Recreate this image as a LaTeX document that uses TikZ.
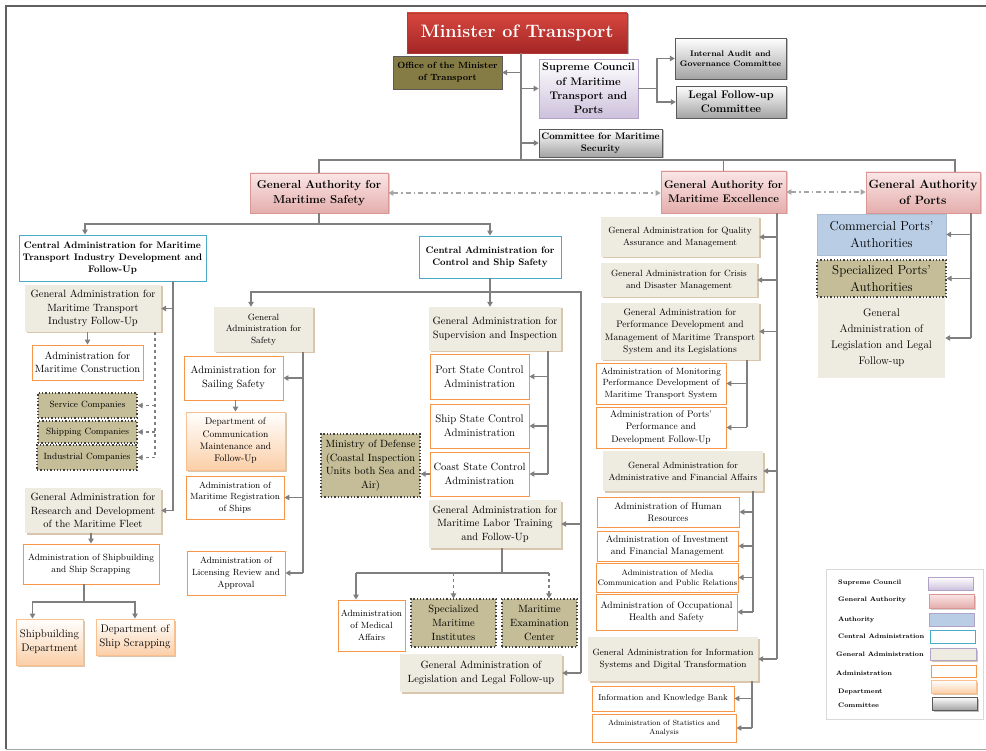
\documentclass[tikz,border=0pt]{standalone}
\usepackage{fontspec}
\usetikzlibrary{arrows.meta,shadows}

\definecolor{linegray}{HTML}{7F7F7F}
\definecolor{framegray}{HTML}{606060}
\definecolor{ministertop}{HTML}{D8473F}
\definecolor{ministerbot}{HTML}{A32626}
\definecolor{ministerline}{HTML}{B23A35}
\definecolor{olivebox}{HTML}{857B44}
\definecolor{lavender}{HTML}{CDC1DC}
\definecolor{lavline}{HTML}{B3A2C7}
\definecolor{grayshade}{HTML}{A3A3A3}
\definecolor{grayline}{HTML}{5A5A5A}
\definecolor{pinktop}{HTML}{FAE6E6}
\definecolor{pinkbot}{HTML}{E4AEAC}
\definecolor{pinkline}{HTML}{D99694}
\definecolor{cyanline}{HTML}{4BACC6}
\definecolor{beigefill}{HTML}{EEECE1}
\definecolor{shadowtan}{HTML}{D9C6AC}
\definecolor{orangeline}{HTML}{F79646}
\definecolor{deptline}{HTML}{FAC090}
\definecolor{deptbot}{HTML}{FBCFA8}
\definecolor{khaki}{HTML}{C4BD97}
\definecolor{dotline}{HTML}{404040}
\definecolor{authblue}{HTML}{B9CDE5}

\newcommand{\fsz}[1]{\fontsize{#1}{\dimexpr #1pt*13/10\relax}\selectfont}

\tikzset{
	wh/.style 2 args={minimum width=#1, minimum height=#2},
	base/.style={align=center, inner sep=1pt, text=black, font=\fsz{9.5}},
	minister/.style={base, draw=ministerline, top color=ministertop, bottom color=ministerbot, text=white, font=\fsz{18}\bfseries,
		drop shadow={shadow xshift=1.5pt, shadow yshift=-1.5pt, fill=gray!60, opacity=1}},
	office/.style={base, fill=olivebox, draw=grayline, font=\fsz{9}\bfseries},
	supreme/.style={base, draw=lavline, line width=0.8pt, top color=white, bottom color=lavender, font=\fsz{11}\bfseries},
	committee/.style={base, draw=grayline, top color=white, bottom color=grayshade, font=\fsz{9.5}\bfseries,
		drop shadow={shadow xshift=1.5pt, shadow yshift=-1.5pt, fill=gray!50, opacity=1}},
	authority/.style={base, draw=pinkline, line width=0.8pt, top color=pinktop, bottom color=pinkbot, font=\fsz{11.5}\bfseries,
		drop shadow={shadow xshift=1.5pt, shadow yshift=-1.5pt, fill=gray!35, opacity=1}},
	central/.style={base, draw=cyanline, line width=0.9pt, fill=white, font=\fsz{9.5}\bfseries},
	general/.style={base, fill=beigefill, font=\fsz{10.5},
		drop shadow={shadow xshift=1.5pt, shadow yshift=-1.5pt, fill=shadowtan, opacity=1}},
	genplain/.style={base, fill=beigefill, font=\fsz{10.5}},
	admin/.style={base, draw=orangeline, line width=0.9pt, fill=white, font=\fsz{9}},
	dept/.style={base, draw=deptline, line width=0.9pt, top color=white, bottom color=deptbot, font=\fsz{11},
		drop shadow={shadow xshift=1.5pt, shadow yshift=-1.5pt, fill=shadowtan, opacity=1}},
	partner/.style={base, fill=khaki, draw=dotline, line width=1.3pt, dotted, font=\fsz{9}},
	portauth/.style={base, fill=authblue, draw=authblue!80!gray, font=\fsz{13}},
	legtext/.style={anchor=west, inner sep=0pt, font=\fsz{6.5}\bfseries},
	conn/.style={draw=linegray, line width=1.1pt},
	arr/.style={conn, -{Triangle[length=5pt, width=5.5pt]}},
	dda/.style={draw=gray!70, line width=1.1pt, dash pattern=on 5pt off 3pt on 1.5pt off 3pt,
		{Triangle[length=5pt, width=5.5pt]}-{Triangle[length=5pt, width=5.5pt]}},
}

\begin{document}
\begin{tikzpicture}[x=1pt, y=-1pt]
	\useasboundingbox (0,0) rectangle (986,751);
	% frame
	\draw[framegray, line width=2pt] (986,6) -- (6,6) -- (6,749);
	\draw[gray!70, line width=1pt] (6,749) -- (986,749);

	% minister and council
	\node[minister, wh={220}{40}] (minister) at (517,33) {Minister of Transport};
	\node[office, wh={109}{33}] (office) at (447.5,72.5) {Office of the Minister\\of Transport};
	\node[supreme, wh={99}{59}] (supreme) at (588.5,88.5) {Supreme Council\\of Maritime\\Transport and\\Ports};
	\node[committee, wh={111}{41}, font=\fsz{8}\bfseries] (audit) at (730.5,58.5) {Internal Audit and\\Governance Committee};
	\node[committee, wh={110}{32}, font=\fsz{11}\bfseries] (legalCom) at (731,102) {Legal Follow-up\\Committee};
	\node[committee, wh={123}{28}] (security) at (600.5,143) {Committee for Maritime\\Security};

	% authorities
	\node[authority, wh={138}{40}] (gaSafety) at (319,193) {General Authority for\\Maritime Safety};
	\node[authority, wh={125}{42}, font=\fsz{11}\bfseries] (gaExcel) at (723.5,192) {General Authority for\\Maritime Excellence};
	\node[authority, wh={114}{41}, font=\fsz{12}\bfseries] (gaPorts) at (923,192.5) {General Authority\\of Ports};

	% maritime safety: transport industry
	\node[central, wh={187}{46}] (caTransport) at (112.5,258) {Central Administration for Maritime\\Transport Industry Development and\\Follow-Up};
	\node[general, wh={136}{47}] (gaTransFollow) at (93,308.5) {General Administration for\\Maritime Transport\\Industry Follow-Up};
	\node[admin, wh={111}{35}, font=\fsz{10.5}] (construction) at (87.5,362.5) {Administration for\\Maritime Construction};
	\node[partner, wh={99}{25}] (service) at (87.5,405.5) {Service Companies};
	\node[partner, wh={99}{22}] (shipping) at (87.5,432) {Shipping Companies};
	\node[partner, wh={100}{25}] (industrial) at (87,457.5) {Industrial Companies};
	\node[general, wh={136}{45}] (gaResearch) at (93,510.5) {General Administration for\\Research and Development\\of the Maritime Fleet};
	\node[admin, wh={136}{40}] (adminShip) at (91,564) {Administration of Shipbuilding\\and Ship Scrapping};
	\node[dept, wh={67}{46}] (shipDept) at (49.5,642) {Shipbuilding\\Department};
	\node[dept, wh={78}{36}] (scrapDept) at (135,637) {Department of\\Ship Scrapping};

	% maritime safety: control and ship safety
	\node[central, wh={142}{42}] (caControl) at (490,257) {Central Administration for\\Control and Ship Safety};
	\node[general, wh={99}{45}, font=\fsz{9}] (gaSafetyAdmin) at (263.5,329.5) {General\\Administration for\\Safety};
	\node[admin, wh={99}{44}, font=\fsz{10.5}] (sailing) at (233.5,378) {Administration for\\Sailing Safety};
	\node[dept, wh={99}{58}, font=\fsz{9.5}] (deptComm) at (235.5,441) {Department of\\Communication\\Maintenance and\\Follow-Up};
	\node[admin, wh={98}{43}] (registration) at (235,497.5) {Administration of\\Maritime Registration\\of Ships};
	\node[admin, wh={98}{44}] (licensing) at (236,573) {Administration of\\Licensing Review and\\Approval};
	\node[general, wh={132}{44}] (gaSupervision) at (495,329) {General Administration for\\Supervision and Inspection};
	\node[admin, wh={99}{45}, font=\fsz{11}] (portState) at (479.5,376.5) {Port State Control\\Administration};
	\node[admin, wh={99}{44}, font=\fsz{11}] (shipState) at (479.5,426) {Ship State Control\\Administration};
	\node[admin, wh={99}{44}, font=\fsz{10.5}] (coastState) at (479.5,474) {Coast State Control\\Administration};
	\node[partner, wh={99}{63}, font=\fsz{10.5}] (ministry) at (370.5,465.5) {Ministry of Defense\\(Coastal Inspection\\Units both Sea and\\Air)};
	\node[general, wh={132}{48}] (gaLabor) at (495,524) {General Administration for\\Maritime Labor Training\\and Follow-Up};
	\node[admin, wh={67}{51}] (medical) at (371.5,625.5) {Administration\\of Medical\\Affairs};
	\node[partner, wh={85}{48}, font=\fsz{10.5}] (institutes) at (453.5,623) {Specialized\\Maritime\\Institutes};
	\node[partner, wh={75}{48}, font=\fsz{10.5}] (examCenter) at (539.5,623) {Maritime\\Examination\\Center};
	\node[general, wh={162}{38}] (gaLegislation) at (481,673) {General Administration of\\Legislation and Legal Follow-up};

	% maritime excellence
	\node[general, wh={158}{40}, font=\fsz{9}] (gaQuality) at (680,237) {General Administration for Quality\\Assurance and Management};
	\node[general, wh={156}{34}, font=\fsz{9}] (gaCrisis) at (679,280) {General Administration for Crisis\\and Disaster Management};
	\node[general, wh={158}{57}, font=\fsz{9.5}] (gaPerformance) at (680,331.5) {General Administration for\\Performance Development and\\Management of Maritime Transport\\System and its Legislations};
	\node[admin, wh={130}{41}] (monitoring) at (661,383.5) {Administration of Monitoring\\Performance Development of\\Maritime Transport System};
	\node[admin, wh={130}{41}, font=\fsz{9.5}] (portsPerf) at (661,427.5) {Administration of Ports'\\Performance and\\Development Follow-Up};
	\node[general, wh={160}{40}, font=\fsz{9}] (gaAdminFin) at (683,471) {General Administration for\\Administrative and Financial Affairs};
	\node[admin, wh={142}{30}, font=\fsz{9.5}] (hr) at (668,512) {Administration of Human\\Resources};
	\node[admin, wh={141}{30}, font=\fsz{9.5}] (invest) at (667.5,546) {Administration of Investment\\and Financial Management};
	\node[admin, wh={141}{29}, font=\fsz{8}] (media) at (667.5,577.5) {Administration of Media\\Communication and Public Relations};
	\node[admin, wh={141}{36}, font=\fsz{9.5}] (ohs) at (666.5,612) {Administration of Occupational\\Health and Safety};
	\node[general, wh={170}{44}, font=\fsz{9}] (gaInfo) at (673,659) {General Administration for Information\\Systems and Digital Transformation};
	\node[admin, wh={142}{25}, font=\fsz{8.5}] (infoBank) at (663,698.5) {Information and Knowledge Bank};
	\node[admin, wh={144}{28}, font=\fsz{7.5}] (stats) at (664,728) {Administration of Statistics and\\Analysis};

	% ports
	\node[portauth, wh={129}{41}] (commercial) at (881.5,234.5) {Commercial Ports'\\Authorities};
	\node[partner, wh={129}{37}, font=\fsz{13}] (specPorts) at (881.5,278.5) {Specialized Ports'\\Authorities};
	\node[genplain, wh={127}{80}, font=\fontsize{11}{16}\selectfont] (gaLegPorts) at (881.5,338) {General\\Administration of\\Legislation and Legal\\Follow-up};

	% legend
	\node[draw=gray!30, fill=white, wh={157}{150}] (legend) at (904.5,644) {};
	\node[legtext] (legSupreme) at (838,583) {Supreme Council};
	\node[legtext] (legAuthority) at (838,600) {General Authority};
	\node[legtext] (legPortAuth) at (838,620) {Authority};
	\node[legtext] (legCentral) at (838,636) {Central Administration};
	\node[legtext] (legGeneral) at (836,654) {General Administration};
	\node[legtext] (legAdmin) at (836,673) {Administration};
	\node[legtext] (legDept) at (838,692) {Department};
	\node[legtext] (legCommittee) at (838,705) {Committee};
	\node[supreme, wh={45}{13}] (swSupreme) at (950.5,583.5) {};
	\node[authority, wh={45}{14}] (swAuthority) at (951.5,601) {};
	\node[portauth, draw=lavline, wh={45}{13}] (swPortAuth) at (951.5,619.5) {};
	\node[central, wh={45}{13}] (swCentral) at (952.5,636.5) {};
	\node[general, draw=lavline, wh={46}{12}] (swGeneral) at (953,654) {};
	\node[admin, wh={45}{12}] (swAdmin) at (953.5,671) {};
	\node[dept, wh={45}{13}] (swDept) at (953.5,686.5) {};
	\node[committee, wh={45}{13}] (swCommittee) at (954.5,703.5) {};

	% minister trunk
	\coordinate (trunk) at (521,160);
	\draw[conn] (minister.south -| trunk) -- (trunk);
	\draw[arr] (trunk |- office.east) -- (office.east);
	\draw[arr] (trunk |- supreme.west) -- (supreme.west);
	\draw[arr] (trunk |- security.west) -- (security.west);
	\coordinate (scSplit) at (657,88.5);
	\draw[conn] (supreme.east) -- (scSplit);
	\draw[arr] (scSplit) |- (audit.west);
	\draw[arr] (scSplit) |- (legalCom.west);

	% authorities
	\coordinate (busR) at (955,160);
	\draw[conn] (gaSafety.north) |- (busR) -- (busR |- gaPorts.north);
	\draw[conn] (gaExcel.north) -- (gaExcel.north |- busR);
	\draw[dda] (gaSafety.east) -- (gaSafety.east -| gaExcel.west);
	\draw[dda] (gaExcel.east) -- (gaExcel.east -| gaPorts.west);

	% maritime safety
	\coordinate (gsBus) at (319,224);
	\coordinate (caTop) at ([xshift=-27.5pt]caTransport.north);
	\draw[arr] (gaSafety.south) -- (gsBus) -| (caTop);
	\draw[arr] (gsBus) -| (caControl.north);

	% transport industry
	\coordinate (spT) at (173,0);
	\draw[conn] (caTransport.south -| spT) -- (spT |- gaResearch.east);
	\draw[arr] (spT |- gaTransFollow.east) -- (gaTransFollow.east);
	\draw[arr] (spT |- gaResearch.east) -- (gaResearch.east);
	\draw[arr] (construction.north |- gaTransFollow.south) -- (construction.north);
	\coordinate (spD) at (155,0);
	\draw[conn, dashed] (gaTransFollow.south -| spD) -- (spD |- industrial.east);
	\foreach \n in {service, shipping, industrial}
		\draw[arr, dashed] (spD |- \n.east) -- (\n.east);
	\draw[arr] (adminShip.north |- gaResearch.south) -- (adminShip.north);
	\coordinate (shipBus) at (84,602);
	\coordinate (shipTop) at ([xshift=-17pt]shipDept.north);
	\draw[conn] (adminShip.south -| shipBus) -- (shipBus);
	\draw[arr] (shipBus) -| (shipTop);
	\draw[arr] (shipBus) -| (scrapDept.north);

	% control and ship safety
	\coordinate (ctrlBus) at (490,292);
	\coordinate (spC) at (581,0);
	\coordinate (gsaTop) at ([xshift=-12.5pt]gaSafetyAdmin.north);
	\draw[conn] (caControl.south) -- (ctrlBus);
	\draw[arr] (ctrlBus) -| (gsaTop);
	\draw[arr] (ctrlBus) -- (ctrlBus |- gaSupervision.north);
	\draw[conn] (ctrlBus) -| (spC |- gaLegislation.east);
	\draw[arr] (spC |- gaLabor.east) -- (gaLabor.east);
	\draw[arr] (spC |- gaLegislation.east) -- (gaLegislation.east);

	% safety
	\coordinate (spS) at (303,0);
	\draw[conn] (gaSafetyAdmin.south -| spS) -- (spS |- licensing.east);
	\foreach \n in {sailing, registration, licensing}
		\draw[arr] (spS |- \n.east) -- (\n.east);
	\draw[arr] (deptComm.north |- sailing.south) -- (deptComm.north);

	% supervision
	\coordinate (spI) at (548,0);
	\draw[conn] (gaSupervision.south -| spI) -- (spI |- coastState.east);
	\foreach \n in {portState, shipState, coastState}
		\draw[arr] (spI |- \n.east) -- (\n.east);
	\draw[arr] (coastState.west) -- (coastState.west -| ministry.east);

	% labor training
	\coordinate (labBus) at (502,573);
	\coordinate (medTop) at ([xshift=-15.5pt]medical.north);
	\coordinate (examTop) at ([xshift=9.5pt]examCenter.north);
	\draw[conn] (gaLabor.south -| labBus) -- (labBus);
	\draw[conn] (medTop |- labBus) -- (examTop |- labBus);
	\draw[arr] (medTop |- labBus) -- (medTop);
	\draw[arr, dashed] (institutes.north |- labBus) -- (institutes.north);
	\draw[arr, dashed] (examTop |- labBus) -- (examTop);

	% maritime excellence
	\coordinate (spE) at (777,0);
	\draw[conn] (gaExcel.south -| spE) -- (spE |- gaInfo.east);
	\foreach \n in {gaQuality, gaCrisis, gaPerformance, gaAdminFin, gaInfo}
		\draw[arr] (spE |- \n.east) -- (\n.east);
	\coordinate (spP) at (747,0);
	\draw[conn] (gaPerformance.south -| spP) -- (spP |- portsPerf.east);
	\foreach \n in {monitoring, portsPerf}
		\draw[arr] (spP |- \n.east) -- (\n.east);
	\coordinate (spF) at (753,0);
	\draw[conn] (gaAdminFin.south -| spF) -- (spF |- ohs.east);
	\foreach \n in {hr, invest, media, ohs}
		\draw[arr] (spF |- \n.east) -- (\n.east);
	\coordinate (spN) at (752,0);
	\draw[conn] (gaInfo.south -| spN) -- (spN |- stats.east);
	\foreach \n in {infoBank, stats}
		\draw[arr] (spN |- \n.east) -- (\n.east);

	% ports
	\coordinate (spO) at (971,0);
	\draw[conn] (gaPorts.south -| spO) -- (spO |- gaLegPorts.east);
	\foreach \n in {commercial, specPorts, gaLegPorts}
		\draw[arr] (spO |- \n.east) -- (\n.east);
\end{tikzpicture}
\end{document}
